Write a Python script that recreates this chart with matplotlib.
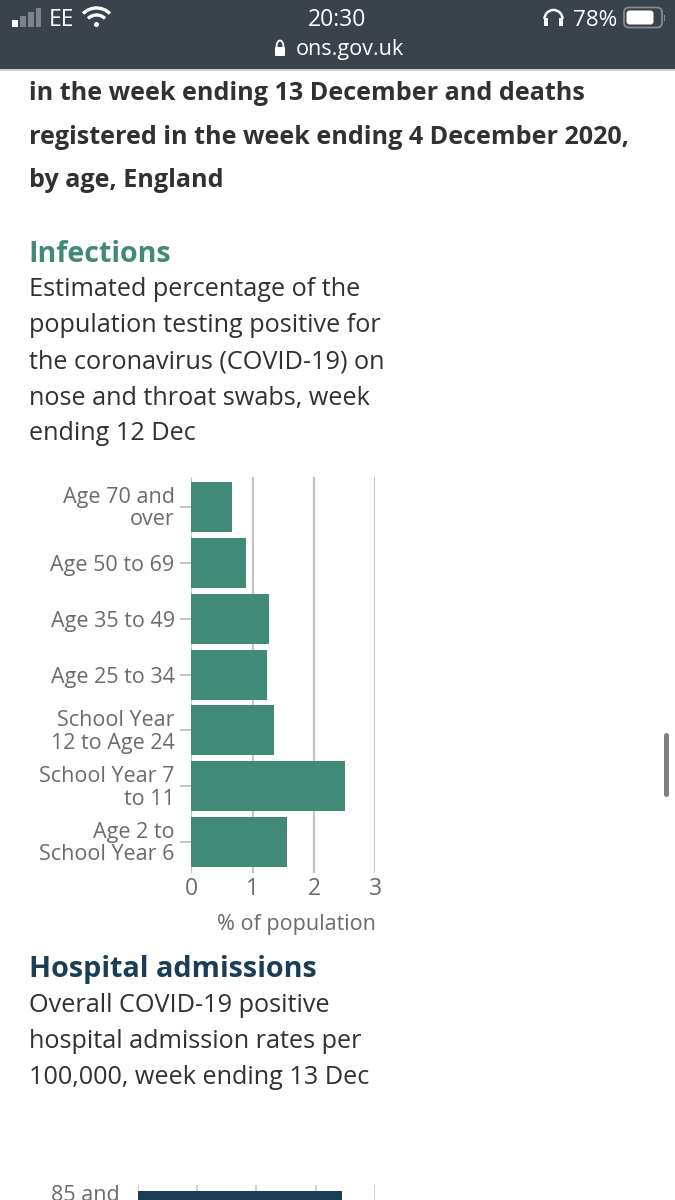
import matplotlib
matplotlib.use("Agg")
import matplotlib.pyplot as plt
from matplotlib.patches import Rectangle, FancyBboxPatch, Circle, Arc
from matplotlib.transforms import ScaledTranslation

W, H = 675, 1200

# infections chart, top bar first
inf_labels = ["Age 70 and\nover", "Age 50 to 69", "Age 35 to 49", "Age 25 to 34",
              "School Year\n12 to Age 24", "School Year 7\nto 11", "Age 2 to\nSchool Year 6"]
inf_values = [0.67, 0.89, 1.27, 1.24, 1.35, 2.51, 1.56]
inf_ticks = [0, 1, 2, 3]

# hospital chart, only the first bar is on screen and its ticks are cut off
hosp_labels = ["85 and\nover"]
hosp_values = [172]
hosp_ticks = [0, 50, 100, 150, 200]

head_lines = ["in the week ending 13 December and deaths",
              "registered in the week ending 4 December 2020,",
              "by age, England"]
inf_text = ["Estimated percentage of the", "population testing positive for",
            "the coronavirus (COVID-19) on", "nose and throat swabs, week", "ending 12 Dec"]
hosp_text = ["Overall COVID-19 positive", "hospital admission rates per",
             "100,000, week ending 13 Dec"]

plt.rcParams["font.family"] = ["Open Sans", "DejaVu Sans"]

TEAL = "#418a78"
NAVY = "#1a3e57"
DARK = "#323132"
GREY = "#6b6b6b"
GRID = "#c4c4c4"
BAR = "#3a424c"

fig = plt.figure(figsize=(W / 100, H / 100), dpi=100, facecolor="white")


def axes_px(left, top, right, bottom):
    # axes placed with screenshot pixels, y going down
    return fig.add_axes([left / W, 1 - bottom / H, (right - left) / W, (bottom - top) / H])


def bar_chart(ax, labels, values, ticks, color, tick_color, xmax):
    ys = list(range(len(values)))
    ax.barh(ys, values, height=0.895, color=color, zorder=3)
    ax.set_xlim(0, xmax)
    ax.set_xticks(ticks)
    ax.set_yticks(ys)
    ax.set_yticklabels(labels, linespacing=1.12)
    ax.grid(axis="x", color=GRID, lw=1.6, zorder=0)
    ax.set_axisbelow(True)
    for s in ax.spines.values():
        s.set_visible(False)
    ax.tick_params(axis="y", length=8, width=1.4, color=GRID, pad=4, labelsize=15.5, labelcolor=tick_color)
    ax.tick_params(axis="x", length=0, pad=3, labelsize=16.5, labelcolor=tick_color)
    ax.patch.set_alpha(0)


# infections, 0 at x=191 and 3 at x=375
ax1 = axes_px(191.3, 476.7, 375.4, 873)
bar_chart(ax1, inf_labels, inf_values, inf_ticks, TEAL, GREY, 3)
ax1.set_ylim(6.555, -0.543)
ax1.set_xlabel("% of population", fontsize=15.5, color=GREY, labelpad=9, loc="right")
# two line labels sit a little higher than the single ones
for lab in ax1.get_yticklabels():
    if "\n" in lab.get_text():
        lab.set_transform(lab.get_transform() + ScaledTranslation(0, 2 / 100, fig.dpi_scale_trans))

# hospital, runs off the bottom of the screen
ax2 = axes_px(137.5, 1185, 375.4, 1221)
bar_chart(ax2, hosp_labels, hosp_values, hosp_ticks, NAVY, GREY, 200)
ax2.set_ylim(0.6, -0.67)
ax2.set_xticklabels([])
ax2.tick_params(axis="y", length=0, pad=13, labelsize=15.5)
ax2.grid(axis="x", color=GRID, lw=1.1, zorder=0)

# page overlay in pixel coordinates
ov = fig.add_axes([0, 0, 1, 1], zorder=5)
ov.set_xlim(0, W)
ov.set_ylim(H, 0)
ov.axis("off")
ov.patch.set_alpha(0)

# status bar
ov.add_patch(Rectangle((0, 0), W, 69, color=BAR, lw=0))
ov.add_patch(Rectangle((0, 69), W, 1.5, color="#c9ced3", lw=0))
for i, (x, top) in enumerate([(12, 20), (20, 16), (28, 12), (35.5, 8)]):
    ov.add_patch(Rectangle((x, top), 5.5, 27 - top, color="white" if i == 0 else "#7c8288", lw=0))
ov.text(49, 20, "EE", color="white", fontsize=16.5, ha="left", va="center")
# wifi
for r in (38, 24):
    ov.add_patch(Arc((96.5, 27), r, r, theta1=225, theta2=315, color="white", lw=2.4))
ov.add_patch(Circle((96.5, 24.5), 2.5, color="white", lw=0))
ov.text(337, 20, "20:30", color="white", fontsize=16.5, ha="center", va="center")
# lock and url
ov.add_patch(FancyBboxPatch((275, 47), 10, 9, boxstyle="round,pad=0,rounding_size=1", color="white", lw=0))
ov.add_patch(Arc((280, 47), 7, 13, theta1=180, theta2=360, color="white", lw=1.3))
ov.text(350, 49, "ons.gov.uk", color="white", fontsize=15.6, ha="center", va="center")
# headphones, battery
ov.add_patch(Arc((553.5, 19), 18, 18, theta1=180, theta2=360, color="white", lw=1.8))
ov.add_patch(Rectangle((544, 18), 4, 8, color="white", lw=0))
ov.add_patch(Rectangle((559, 18), 4, 8, color="white", lw=0))
ov.text(595, 20, "78%", color="white", fontsize=16.2, ha="center", va="center")
ov.add_patch(FancyBboxPatch((624, 7.5), 38, 20, boxstyle="round,pad=0,rounding_size=5", fc="none", ec="#8a8f95", lw=1.2))
ov.add_patch(FancyBboxPatch((626.5, 10.5), 27, 14, boxstyle="round,pad=0,rounding_size=3", color="white", lw=0))
ov.add_patch(Rectangle((663.5, 14.5), 1.5, 6, color="#8a8f95", lw=0))

# page text
for y, s in zip([94, 137, 180.5], head_lines):
    ov.text(29, y, s, fontsize=18.1, fontweight="bold", color=DARK, va="center", ha="left")

ov.text(28.5, 254, "Infections", fontsize=20.6, fontweight="bold", color=TEAL, va="center")
for y, s in zip([290, 326, 362, 398, 434], inf_text):
    ov.text(29, y, s, fontsize=18.2, color=DARK, va="center")

ov.text(29, 969, "Hospital admissions", fontsize=20.7, fontweight="bold", color=NAVY, va="center")
for y, s in zip([1006, 1042, 1078], hosp_text):
    ov.text(29, y, s, fontsize=18.2, color=DARK, va="center")

# scroll thumb
ov.add_patch(FancyBboxPatch((664, 733), 5, 64, boxstyle="round,pad=0,rounding_size=2.5", color="#808080", lw=0))

fig.savefig("out.png", dpi=100)
